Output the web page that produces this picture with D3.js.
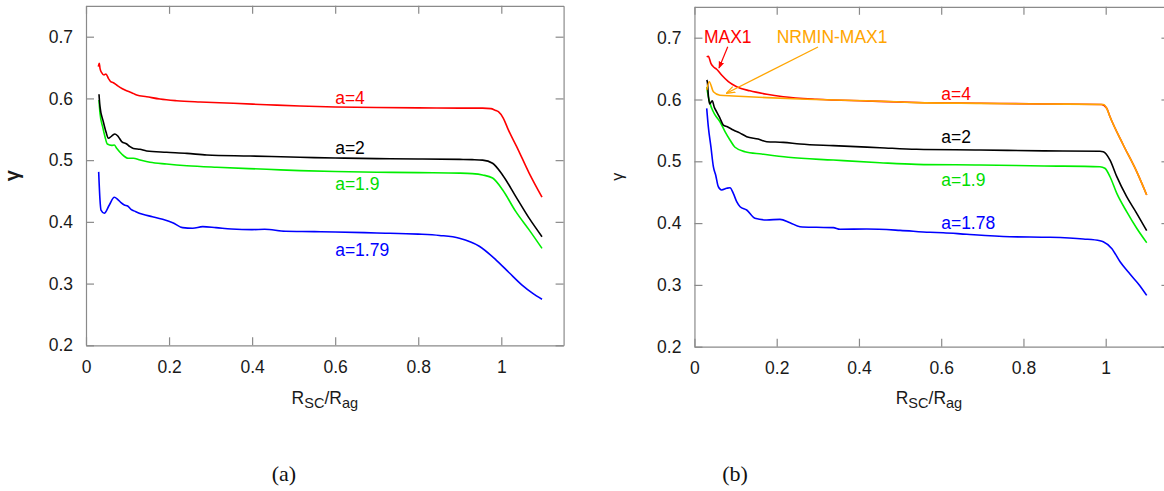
<!DOCTYPE html>
<html>
<head>
<meta charset="utf-8">
<script src="https://cdn.jsdelivr.net/npm/d3@7"></script>
<style>
  html, body { margin: 0; padding: 0; background: #fff; }
  svg { display: block; }
</style>
</head>
<body>
<svg id="chart" width="1164" height="491"></svg>
<script>
// ---------------- DATA ----------------
const xTicks = [0, 0.2, 0.4, 0.6, 0.8, 1];
const xTickLabels = ["0", "0.2", "0.4", "0.6", "0.8", "1"];
const yTicks = [0.2, 0.3, 0.4, 0.5, 0.6, 0.7];
const yTickLabels = ["0.2", "0.3", "0.4", "0.5", "0.6", "0.7"];

// panel (a)
const aSeriesNames = ["a=1.79", "a=1.9", "a=2", "a=4"];
const a_179 = [[0.0305,0.481],[0.0337,0.4354],[0.0361,0.419],[0.0441,0.4139],[0.0562,0.4273],[0.0682,0.4398],[0.0762,0.4365],[0.0843,0.431],[0.0923,0.4273],[0.1003,0.4257],[0.1083,0.4204],[0.12,0.4165],[0.1365,0.4122],[0.16,0.4084],[0.1846,0.4041],[0.2087,0.3987],[0.2328,0.3906],[0.257,0.3896],[0.281,0.3922],[0.313,0.3906],[0.35,0.3885],[0.4,0.3874],[0.43,0.388],[0.48,0.3847],[0.55,0.3842],[0.6,0.3836],[0.7,0.382],[0.8,0.3802],[0.851,0.378],[0.899,0.3735],[0.947,0.3605],[0.987,0.3385],[1.019,0.3175],[1.05,0.2975],[1.075,0.2845],[1.098,0.2746]];
const a_19 = [[0.0313,0.5974],[0.0337,0.5759],[0.04,0.5542],[0.0457,0.538],[0.0513,0.5262],[0.0618,0.524],[0.068,0.5245],[0.0738,0.5192],[0.0859,0.51],[0.1018,0.503],[0.114,0.503],[0.13,0.5002],[0.154,0.4965],[0.194,0.4937],[0.243,0.491],[0.315,0.4884],[0.435,0.4852],[0.515,0.483],[0.6,0.4815],[0.7,0.4805],[0.8,0.4797],[0.9,0.479],[0.93,0.4782],[0.955,0.476],[0.979,0.471],[1.003,0.452],[1.035,0.4165],[1.067,0.387],[1.098,0.357]];
const a_2 = [[0.0313,0.6067],[0.0337,0.5866],[0.0417,0.5623],[0.048,0.546],[0.0538,0.5354],[0.0618,0.539],[0.0698,0.5424],[0.0779,0.538],[0.0859,0.53],[0.098,0.5262],[0.106,0.5218],[0.114,0.519],[0.13,0.5175],[0.146,0.5148],[0.194,0.5127],[0.243,0.511],[0.291,0.5083],[0.395,0.5067],[0.515,0.5046],[0.6,0.5035],[0.7,0.5025],[0.8,0.5018],[0.9,0.5012],[0.93,0.5008],[0.955,0.5],[0.979,0.495],[1.003,0.476],[1.035,0.441],[1.067,0.406],[1.098,0.376]];
const a_4 = [[0.0297,0.6514],[0.032,0.657],[0.0337,0.6488],[0.0378,0.6417],[0.0433,0.638],[0.048,0.6396],[0.0538,0.6326],[0.0594,0.6271],[0.0658,0.6255],[0.0738,0.6217],[0.0819,0.618],[0.0939,0.6136],[0.11,0.6093],[0.122,0.6055],[0.146,0.6028],[0.178,0.599],[0.218,0.5963],[0.275,0.5942],[0.355,0.5921],[0.435,0.5898],[0.515,0.5877],[0.6,0.5862],[0.7,0.5852],[0.8,0.5847],[0.9,0.5843],[0.955,0.5842],[0.975,0.5835],[0.985,0.581],[0.993,0.5785],[1.005,0.5678],[1.017,0.549],[1.037,0.522],[1.067,0.479],[1.098,0.44]];
// label anchor points (data units) for panel (a)
const aLabelX = [0.6, 0.6, 0.6, 0.6];
const aLabelY = [0.345, 0.451, 0.51, 0.591];

// panel (b)
const bSeriesNames = ["a=1.78", "a=1.9", "a=2", "a=4", "NRMIN-MAX1"];
const b_178 = [[0.0298,0.5857],[0.0337,0.556],[0.040,0.5236],[0.046,0.4913],[0.0516,0.4778],[0.058,0.4589],[0.066,0.4536],[0.0784,0.4563],[0.0864,0.4573],[0.0945,0.4482],[0.1027,0.4346],[0.111,0.4265],[0.127,0.4212],[0.147,0.4078],[0.1757,0.405],[0.208,0.4061],[0.2323,0.4007],[0.2566,0.3942],[0.297,0.3932],[0.3377,0.3926],[0.354,0.39],[0.4188,0.3904],[0.5,0.3883],[0.5728,0.3851],[0.605,0.3845],[0.662,0.3819],[0.767,0.378],[0.8646,0.377],[0.9455,0.3743],[0.986,0.3715],[0.994,0.37],[1.0146,0.359],[1.035,0.3375],[1.059,0.3175],[1.083,0.2988],[1.0997,0.283]];
const b_19 = [[0.0298,0.62],[0.0315,0.613],[0.0337,0.6045],[0.042,0.5857],[0.05,0.575],[0.062,0.564],[0.0743,0.548],[0.0864,0.5345],[0.0986,0.5227],[0.1229,0.5155],[0.1635,0.5118],[0.228,0.5065],[0.3376,0.502],[0.451,0.4977],[0.54,0.4951],[0.694,0.494],[0.85,0.4925],[0.986,0.4913],[0.998,0.4887],[1.0105,0.475],[1.027,0.448],[1.051,0.4185],[1.0754,0.3916],[1.0997,0.3683]];
const b_2 = [[0.0298,0.6316],[0.0315,0.628],[0.034,0.605],[0.037,0.593],[0.0433,0.598],[0.048,0.588],[0.054,0.58],[0.062,0.57],[0.0702,0.5587],[0.08,0.556],[0.0945,0.5506],[0.11,0.546],[0.127,0.5398],[0.155,0.536],[0.1757,0.5317],[0.216,0.5307],[0.2566,0.528],[0.3376,0.5253],[0.451,0.522],[0.54,0.5194],[0.694,0.5183],[0.85,0.5168],[0.986,0.5162],[0.994,0.5155],[1.0105,0.502],[1.027,0.4751],[1.051,0.4427],[1.0754,0.4158],[1.0997,0.3877]];
const b_4 = [[0.0298,0.669],[0.0337,0.670],[0.040,0.6586],[0.046,0.653],[0.054,0.649],[0.066,0.6397],[0.0825,0.629],[0.1027,0.6207],[0.135,0.614],[0.176,0.6084],[0.216,0.6045],[0.297,0.6003],[0.419,0.5976],[0.54,0.5952],[0.694,0.594],[0.85,0.5928],[0.99,0.592],[1.0025,0.5858],[1.0105,0.572],[1.0428,0.5264],[1.0754,0.4832],[1.0997,0.4455]];
const b_nrmin = [[0.0298,0.6154],[0.036,0.6288],[0.046,0.6126],[0.062,0.607],[0.0945,0.6057],[0.176,0.603],[0.257,0.6008],[0.419,0.598],[0.54,0.595],[0.694,0.5938],[0.85,0.5928],[0.994,0.592],[1.0025,0.5858],[1.0105,0.572],[1.0428,0.5264],[1.0754,0.4832],[1.0997,0.4455]];
const bLabelX = [0.6, 0.6, 0.6, 0.6];
const bLabelY = [0.39, 0.4605, 0.53, 0.6];
// annotations in panel (b): text anchor and arrow from/to (data units)
const bAnnotText = ["MAX1", "NRMIN-MAX1"];
const bAnnotPos = [[0.023, 0.691], [0.2, 0.691]];
const bArrowFrom = [[0.081, 0.6854], [0.3004, 0.685]];
const bArrowTo = [[0.0597, 0.651], [0.079, 0.6105]];

const captions = ["(a)", "(b)"];

// ---------------- DRAW ----------------
const svg = d3.select("#chart");
svg.append("rect").attr("width", 1164).attr("height", 491).attr("fill", "#fff");

const AXIS_COLOR = "#8a8a8a";
const TEXT_COLOR = "#1a1a1a";
const FONT = "'Liberation Sans', Arial, sans-serif";

svg.append("defs").html(`
  <marker id="headRed" viewBox="0 0 10 10" refX="9" refY="5" markerWidth="7" markerHeight="7" orient="auto" markerUnits="userSpaceOnUse">
    <path d="M0,1 L10,5 L0,9 z" fill="#ff0000"/>
  </marker>
  <marker id="headOrange" viewBox="0 0 10 10" refX="9" refY="5" markerWidth="9" markerHeight="9" orient="auto" markerUnits="userSpaceOnUse">
    <path d="M0,1.5 L10,5 L0,8.5" fill="none" stroke="#ffa500" stroke-width="1.3"/>
  </marker>`);

function panel(cfg) {
  const x = d3.scaleLinear().domain([0, cfg.xMax]).range([cfg.left, cfg.left + cfg.xMax * cfg.xUnit]);
  const y = d3.scaleLinear().domain([0.2, 0.75]).range([cfg.bottom, cfg.bottom - 0.55 * cfg.yUnit]);
  const g = svg.append("g");
  const [x0, x1] = x.range();
  const [y0, y1] = y.range();

  const fmtX = d => xTickLabels[xTicks.indexOf(d)];
  const fmtY = d => yTickLabels[yTicks.findIndex(v => Math.abs(v - d) < 1e-9)];

  const axB = g.append("g").attr("transform", `translate(0,${y0})`)
    .call(d3.axisBottom(x).tickValues(xTicks).tickFormat(fmtX).tickSize(-8).tickSizeOuter(0).tickPadding(15));
  const axT = g.append("g").attr("transform", `translate(0,${y1})`)
    .call(d3.axisTop(x).tickValues(xTicks).tickFormat("").tickSize(-8).tickSizeOuter(0));
  const axL = g.append("g").attr("transform", `translate(${x0},0)`)
    .call(d3.axisLeft(y).tickValues(yTicks).tickFormat(fmtY).tickSize(-8).tickSizeOuter(0).tickPadding(13));
  const axR = g.append("g").attr("transform", `translate(${x1},0)`)
    .call(d3.axisRight(y).tickValues(yTicks).tickFormat("").tickSize(-8).tickSizeOuter(0));
  [axB, axT, axL, axR].forEach(a => {
    a.select(".domain").attr("stroke", AXIS_COLOR).attr("stroke-width", 1.2);
    a.selectAll(".tick line").attr("stroke", AXIS_COLOR).attr("stroke-width", 1.2);
    a.selectAll(".tick text").attr("fill", TEXT_COLOR).style("font-family", FONT).style("font-size", "17.5px");
  });

  const clipId = "clip" + cfg.id;
  svg.select("defs").append("clipPath").attr("id", clipId)
    .append("rect").attr("x", x0).attr("y", y1).attr("width", x1 - x0).attr("height", y0 - y1);

  const line = d3.line().x(d => x(d[0])).y(d => y(d[1])).curve(d3.curveMonotoneX);
  const lines = g.append("g").attr("clip-path", `url(#${clipId})`);
  cfg.series.forEach(s => {
    lines.append("path").datum(s.data).attr("d", line)
      .attr("fill", "none").attr("stroke", s.color).attr("stroke-width", 1.6)
      .attr("stroke-linejoin", "round");
  });

  cfg.labels.forEach(l => {
    g.append("text").attr("x", x(l.x)).attr("y", y(l.y)).text(l.text)
      .attr("fill", l.color).style("font-family", FONT).style("font-size", "17.5px");
  });

  // x-axis title R_SC/R_ag
  const t = g.append("text").attr("x", (x0 + x1) / 2 + cfg.titleShift).attr("y", 404)
    .attr("text-anchor", "middle").attr("fill", TEXT_COLOR)
    .style("font-family", FONT).style("font-size", "17.5px");
  t.append("tspan").text("R");
  t.append("tspan").text("SC").attr("dy", 4).style("font-size", "14.5px");
  t.append("tspan").text("/R").attr("dy", -4);
  t.append("tspan").text("ag").attr("dy", 4).style("font-size", "14.5px");

  // y-axis title gamma
  g.append("text").attr("transform", `translate(${cfg.gammaX},${(y0 + y1) / 2}) rotate(-90)`)
    .attr("text-anchor", "middle").attr("fill", TEXT_COLOR)
    .style("font-family", FONT).style("font-size", cfg.gammaSize)
    .style("font-weight", cfg.gammaWeight).text("γ");

  return { x, y, g };
}

const A = panel({
  id: "a", left: 86, xUnit: 415.3, xMax: 1.15, bottom: 345.3, yUnit: 617.2,
  titleShift: 0, gammaX: 18.7, gammaSize: "20px", gammaWeight: "bold",
  series: [
    { data: a_179, color: "#0000ff" },
    { data: a_19, color: "#00ee00" },
    { data: a_2, color: "#000000" },
    { data: a_4, color: "#ff0000" }
  ],
  labels: [
    { text: aSeriesNames[0], x: aLabelX[0], y: aLabelY[0], color: "#0000ff" },
    { text: aSeriesNames[1], x: aLabelX[1], y: aLabelY[1], color: "#00dd00" },
    { text: aSeriesNames[2], x: aLabelX[2], y: aLabelY[2], color: "#000000" },
    { text: aSeriesNames[3], x: aLabelX[3], y: aLabelY[3], color: "#ff0000" }
  ]
});

const B = panel({
  id: "b", left: 694.45, xUnit: 411.25, xMax: 1.155, bottom: 346.7, yUnit: 618,
  titleShift: -3, gammaX: 623.3, gammaSize: "16px", gammaWeight: "normal",
  series: [
    { data: b_178, color: "#0000ff" },
    { data: b_19, color: "#00ee00" },
    { data: b_2, color: "#000000" },
    { data: b_4, color: "#ff0000" },
    { data: b_nrmin, color: "#ffa500" }
  ],
  labels: [
    { text: bSeriesNames[0], x: bLabelX[0], y: bLabelY[0], color: "#0000ff" },
    { text: bSeriesNames[1], x: bLabelX[1], y: bLabelY[1], color: "#00dd00" },
    { text: bSeriesNames[2], x: bLabelX[2], y: bLabelY[2], color: "#000000" },
    { text: bSeriesNames[3], x: bLabelX[3], y: bLabelY[3], color: "#ff0000" }
  ]
});

// annotations in panel (b)
const annColors = ["#ff0000", "#ffa500"];
const heads = ["url(#headRed)", "url(#headOrange)"];
bAnnotText.forEach((txt, i) => {
  B.g.append("text").attr("x", B.x(bAnnotPos[i][0])).attr("y", B.y(bAnnotPos[i][1]))
    .text(txt).attr("fill", annColors[i])
    .style("font-family", FONT).style("font-size", "17.5px");
  B.g.append("line")
    .attr("x1", B.x(bArrowFrom[i][0])).attr("y1", B.y(bArrowFrom[i][1]))
    .attr("x2", B.x(bArrowTo[i][0])).attr("y2", B.y(bArrowTo[i][1]))
    .attr("stroke", annColors[i]).attr("stroke-width", 1.2)
    .attr("marker-end", heads[i]);
});

// captions
const capX = [284, 735];
captions.forEach((c, i) => {
  svg.append("text").attr("x", capX[i]).attr("y", 481).attr("text-anchor", "middle")
    .attr("fill", "#111").style("font-family", "'Liberation Serif', 'Times New Roman', serif").style("font-size", "22px")
    .text(c);
});
</script>
</body>
</html>
